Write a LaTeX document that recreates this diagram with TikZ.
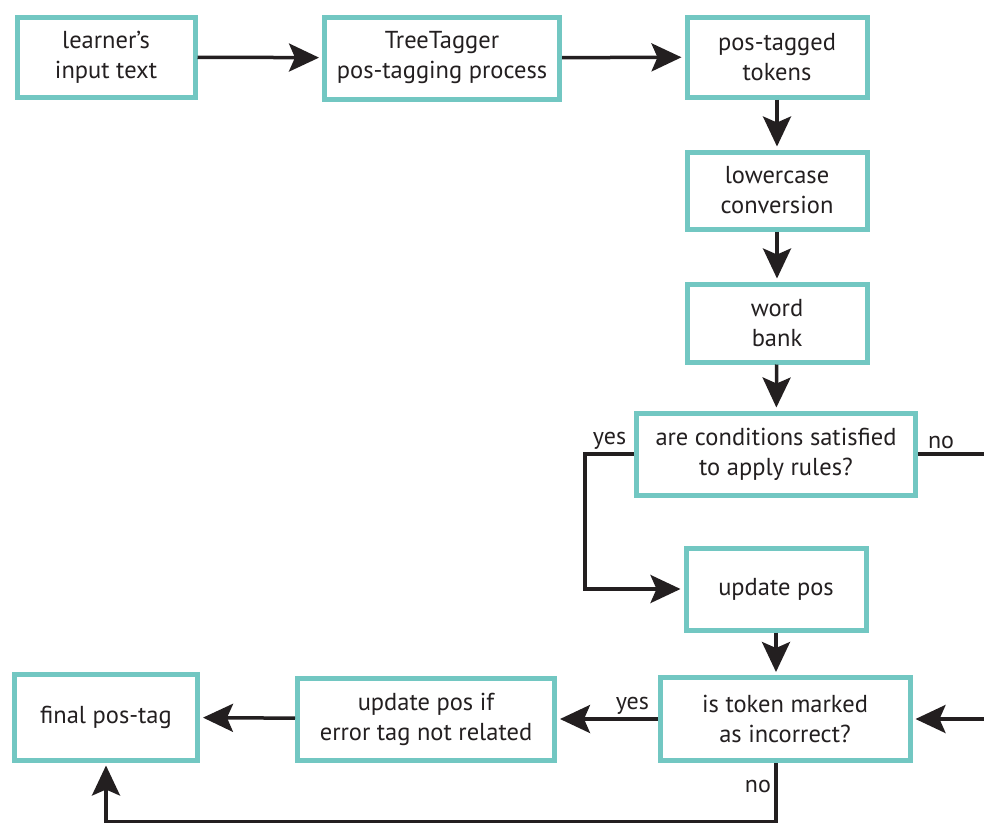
\documentclass[tikz,border=0pt]{standalone}
\usepackage{fontspec}
\setmainfont{PT Sans}
\usepackage{tikz}
\usetikzlibrary{arrows.meta, positioning}
\definecolor{FC-teal}{HTML}{72C7C2}
\definecolor{FC-ink}{HTML}{231F20}
\tikzset{
  procbox/.style={draw=FC-teal, fill=white, line width=5pt, align=center, text=FC-ink, font=\fontsize{24.5}{30}\selectfont},
  flowline/.style={draw=FC-ink, line width=3.5pt},
  flow/.style={flowline, -{Stealth[length=30pt, width=28pt, inset=6pt]}, shorten >=3pt},
  flowlabel/.style={text=FC-ink, font=\fontsize{24}{26}\selectfont}
}

\begin{document}
\begin{tikzpicture}[x=1pt, y=-1pt]
  \useasboundingbox (0,0) rectangle (984,822);
  \node[procbox, minimum width=178, minimum height=80] (Input) at (106,57) {learner’s\\input text};
  \node[procbox, minimum width=235, minimum height=82] (Tagger) at (442,58) {TreeTagger\\pos-tagging process};
  \node[procbox, minimum width=180, minimum height=80] (Tokens) at (777,57) {pos-tagged\\tokens};
  \node[procbox, minimum width=180, minimum height=77, below=50pt of Tokens] (Lower) {lowercase\\conversion};
  \node[procbox, minimum width=180, minimum height=78, below=50pt of Lower] (Bank) {word\\bank};
  \node[procbox, minimum width=279, minimum height=82] (Cond) at (776,454) {are conditions satisfied\\to apply rules?};
  \node[procbox, minimum width=180, minimum height=82] (Upd) at (776,589) {update pos};
  \node[procbox, minimum width=250, minimum height=83] (Token) at (785,719) {is token marked\\as incorrect?};
  \node[procbox, minimum width=257, minimum height=82] (UpdIf) at (426,719) {update pos if\\error tag not related};
  \node[procbox, minimum width=183, minimum height=86] (Final) at (106,717) {final pos-tag};

  \coordinate (EdgeR) at (984,0);
  \coordinate (EdgeB) at (0,822);

  \draw[flow] (Input) -- (Tagger);
  \draw[flow] (Tagger) -- (Tokens);
  \draw[flow] (Tokens) -- (Lower);
  \draw[flow] (Lower) -- (Bank);
  \draw[flow] (Bank) -- (Cond);
  \draw[flow] (Cond.west) -- ++(-49,0) node[midway, above, flowlabel]{yes} |- (Upd.west);
  \draw[flowline] (Cond.east) -- (EdgeR |- Cond.east) node[pos=0.35, above, flowlabel]{no};
  \draw[flow] (Upd) -- (Upd |- Token.north);
  \draw[flow] (EdgeR |- Token.east) -- (Token.east);
  \draw[flow] (Token.west) -- node[pos=0.25, above, flowlabel]{yes} (UpdIf.east);
  \draw[flow] (UpdIf) -- (Final);
  \draw[flow] (Upd |- Token.south) -- node[pos=0.4, left, flowlabel]{no} (Upd |- EdgeB) -| (Final.south);
\end{tikzpicture}
\end{document}
